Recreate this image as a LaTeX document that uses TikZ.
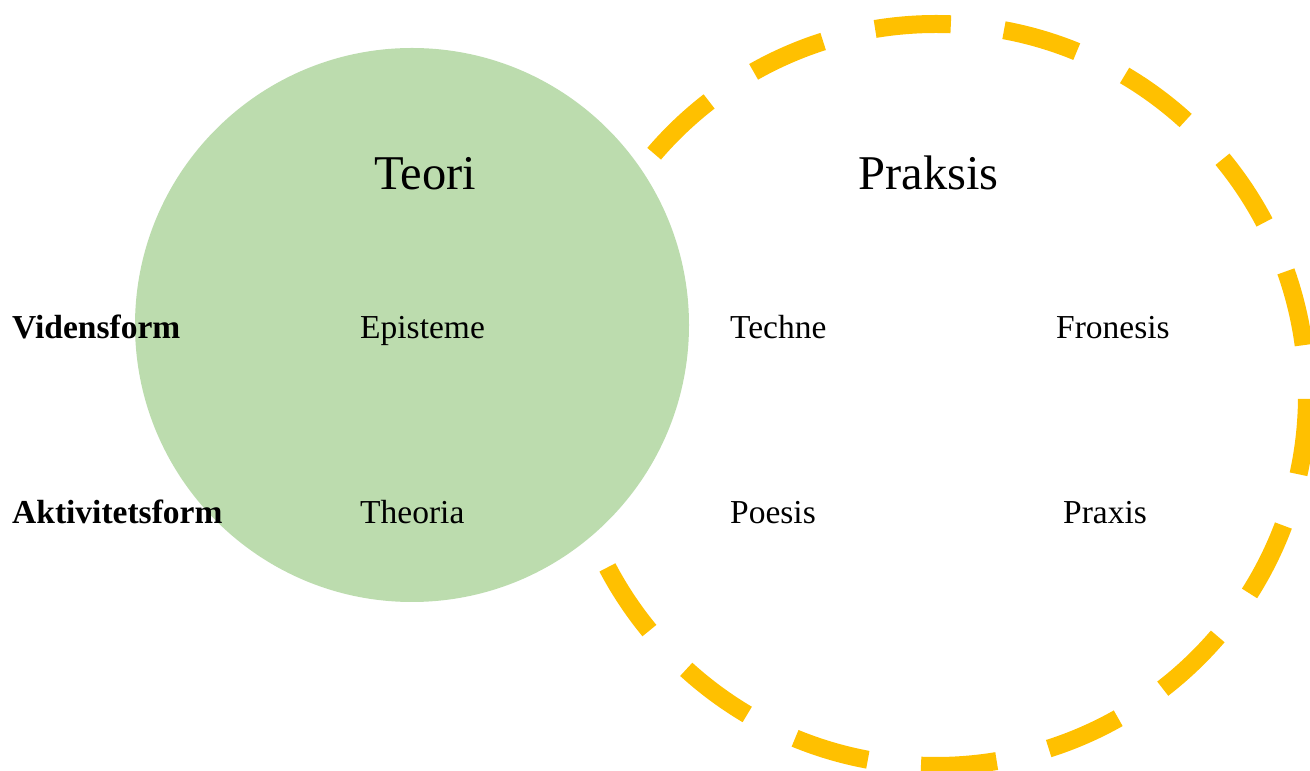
\documentclass[tikz,border=0pt]{standalone}
\usepackage{fontspec}
\setmainfont{Liberation Serif}
\usepackage{xcolor}
\usepackage{tikz}

\definecolor{teorigreen}{RGB}{188,220,174}
\definecolor{praksisgold}{RGB}{255,192,0}

\begin{document}
\begin{tikzpicture}[
  x=1pt, y=1pt,
  head/.style={anchor=base, inner sep=0pt, font=\fontsize{48.5}{58}\selectfont},
  term/.style={anchor=base west, inner sep=0pt, font=\fontsize{33.5}{40}\selectfont},
  rowlbl/.style={term, font=\fontsize{33.5}{40}\selectfont\bfseries}
]
  \useasboundingbox (0,0) rectangle (1310,771);

  % Praksis: dashed ring, lies behind the Teori disc
  \draw[praksisgold, line width=18pt, dash pattern=on 76pt off 53.5pt, dash phase=79.5pt]
    (936,376) circle[radius=371];
  \fill[teorigreen] (412,446) circle[radius=277];

  \node[head] (teori) at (425.5,581) {Teori};
  \node[head] (praksis) at (928.5,581) {Praksis};

  \node[rowlbl] (viden) at (12,432) {Vidensform};
  \node[term] (episteme) at (360,432) {Episteme};
  \node[term] (techne) at (730,432) {Techne};
  \node[term] (fronesis) at (1056,432) {Fronesis};

  \node[rowlbl] (aktivitet) at (12,247) {Aktivitetsform};
  \node[term] (theoria) at (360,247) {Theoria};
  \node[term] (poesis) at (730,247) {Poesis};
  \node[term] (praxis) at (1063,247) {Praxis};
\end{tikzpicture}
\end{document}
